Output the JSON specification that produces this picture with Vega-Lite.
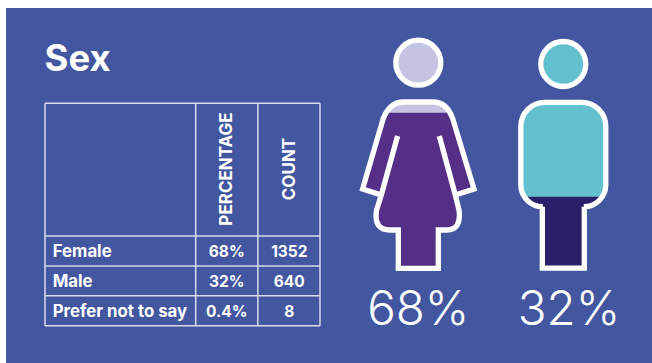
{
  "$schema": "https://vega.github.io/schema/vega-lite/v6.json",
  "width": 646,
  "height": 355,
  "padding": {"left": 6, "top": 8, "right": 0, "bottom": 0},
  "autosize": "none",
  "background": "#ffffff",
  "view": {"fill": "#4356a0", "stroke": null},
  "config": {
    "axis": {"disable": true},
    "text": {"font": "Inter", "color": "#ffffff"}
  },
  "datasets": {
    "sexes": [
      {"sex": "Female", "share": 0.68, "count": 1352},
      {"sex": "Male", "share": 0.32, "count": 640},
      {"sex": "Prefer not to say", "share": 0.004, "count": 8}
    ],
    "iconFills": [
      {"sex": "Female", "part": "female head"},
      {"sex": "Female", "part": "female body"},
      {"sex": "Female", "part": "female upper"},
      {"sex": "Male", "part": "male head"},
      {"sex": "Male", "part": "male body"},
      {"sex": "Male", "part": "male upper"}
    ],
    "iconOutlines": [
      {"sex": "Female", "part": "female head"},
      {"sex": "Female", "part": "female outline"},
      {"sex": "Male", "part": "male head"},
      {"sex": "Male", "part": "male body"}
    ]
  },
  "layer": [
    {
      "data": {"values": [{"heading": "Sex"}]},
      "mark": {"type": "text", "align": "left", "baseline": "alphabetic", "fontSize": 36.5, "fontWeight": 700},
      "encoding": {
        "x": {"field": "heading", "type": "nominal", "scale": {"type": "point", "padding": 0, "range": [38.5, 38.5]}},
        "y": {"field": "heading", "type": "nominal", "scale": {"type": "point", "padding": 0, "range": [63, 63]}},
        "text": {"field": "heading"}
      }
    },
    {
      "data": {"values": [{"edge": "table start"}]},
      "mark": {"type": "rule", "color": "#d9dcec", "strokeWidth": 1.5},
      "encoding": {
        "x": {"field": "edge", "type": "nominal", "scale": {"type": "point", "padding": 0, "domain": ["table start", "count end"], "range": [39, 314]}},
        "y": {"datum": "table top", "type": "nominal", "scale": {"type": "point", "padding": 0, "domain": ["table top", "table bottom"], "range": [95.3, 317.7]}},
        "y2": {"datum": "table bottom"}
      }
    },
    {
      "data": {"values": [{"edge": "labels end"}, {"edge": "percentage end"}, {"edge": "count end"}]},
      "mark": {"type": "rule", "color": "#d9dcec", "strokeWidth": 1.5},
      "encoding": {
        "x": {"field": "edge", "type": "nominal", "scale": {"type": "point", "padding": 0, "domain": ["labels end", "percentage end", "count end"], "range": [189.7, 314]}},
        "y": {"datum": "table top", "type": "nominal", "scale": {"type": "point", "padding": 0, "domain": ["table top", "table bottom"], "range": [95.3, 317.7]}},
        "y2": {"datum": "table bottom"}
      }
    },
    {
      "data": {"values": [{"edge": "header end"}, {"edge": "Female end"}, {"edge": "Male end"}, {"edge": "table end"}]},
      "mark": {"type": "rule", "color": "#d9dcec", "strokeWidth": 1.5},
      "encoding": {
        "y": {"field": "edge", "type": "nominal", "scale": {"type": "point", "padding": 0, "domain": ["header end", "Female end", "Male end", "table end"], "range": [228, 317.7]}},
        "x": {"datum": "table start", "type": "nominal", "scale": {"type": "point", "padding": 0, "domain": ["table start", "table end"], "range": [39, 314]}},
        "x2": {"datum": "table end"}
      }
    },
    {
      "data": {"values": [{"edge": "table top"}]},
      "mark": {"type": "rule", "color": "#d9dcec", "strokeWidth": 1.5},
      "encoding": {
        "y": {"field": "edge", "type": "nominal", "scale": {"type": "point", "padding": 0, "domain": ["table top", "table bottom"], "range": [95.3, 317.7]}},
        "x": {"datum": "table start", "type": "nominal", "scale": {"type": "point", "padding": 0, "domain": ["table start", "table end"], "range": [39, 314]}},
        "x2": {"datum": "table end"}
      }
    },
    {
      "data": {"values": [{"column": "PERCENTAGE"}, {"column": "COUNT"}]},
      "mark": {"type": "text", "angle": 270, "align": "center", "baseline": "middle", "fontSize": 17, "fontWeight": 700},
      "encoding": {
        "x": {"field": "column", "type": "nominal", "scale": {"type": "point", "padding": 0, "domain": ["PERCENTAGE", "COUNT"], "range": [221, 284]}},
        "y": {"datum": "header", "type": "nominal", "scale": {"type": "point", "padding": 0, "range": [161, 161]}},
        "text": {"field": "column"}
      }
    },
    {
      "data": {"name": "sexes"},
      "mark": {"type": "text", "align": "left", "baseline": "middle", "fontSize": 16.8, "fontWeight": 700},
      "encoding": {
        "x": {"datum": "labels", "type": "nominal", "scale": {"type": "point", "padding": 0, "range": [46.7, 46.7]}},
        "y": {"field": "sex", "type": "nominal", "sort": null, "scale": {"type": "point", "padding": 0, "domain": ["Female", "Male", "Prefer not to say"], "range": [243.7, 303.7]}},
        "text": {"field": "sex"}
      }
    },
    {
      "data": {"name": "sexes"},
      "mark": {"type": "text", "align": "center", "baseline": "middle", "fontSize": 15.5, "fontWeight": 700},
      "encoding": {
        "x": {"datum": "PERCENTAGE", "type": "nominal", "scale": {"type": "point", "padding": 0, "domain": ["PERCENTAGE", "COUNT"], "range": [220.7, 283.3]}},
        "y": {"field": "sex", "type": "nominal", "sort": null, "scale": {"type": "point", "padding": 0, "domain": ["Female", "Male", "Prefer not to say"], "range": [243.7, 303.7]}},
        "text": {"field": "share", "type": "quantitative", "format": ".2~%"}
      }
    },
    {
      "data": {"name": "sexes"},
      "mark": {"type": "text", "align": "center", "baseline": "middle", "fontSize": 15.5, "fontWeight": 700},
      "encoding": {
        "x": {"datum": "COUNT", "type": "nominal", "scale": {"type": "point", "padding": 0, "domain": ["PERCENTAGE", "COUNT"], "range": [220.7, 283.3]}},
        "y": {"field": "sex", "type": "nominal", "sort": null, "scale": {"type": "point", "padding": 0, "domain": ["Female", "Male", "Prefer not to say"], "range": [243.7, 303.7]}},
        "text": {"field": "count", "type": "quantitative", "format": "d"}
      }
    },
    {
      "data": {"name": "iconFills"},
      "mark": {"type": "point", "filled": true, "size": 4, "opacity": 1, "strokeWidth": 0},
      "encoding": {
        "x": {"field": "sex", "type": "nominal", "scale": {"type": "point", "padding": 0, "domain": ["Female", "Male"], "range": [412.3, 557.3]}},
        "y": {"datum": "figure", "type": "nominal", "scale": {"type": "point", "padding": 0, "range": [55, 55]}},
        "order": {"field": "part", "sort": "ascending"},
        "detail": {"field": "part"},
        "shape": {
          "field": "part", "type": "nominal", "legend": null,
          "scale": {
            "domain": ["female head", "female body", "female upper", "male head", "male body", "male upper"],
            "range": [
              "M -22.5 -0.3 A 22.5 22.5 0 1 1 22.5 -0.3 A 22.5 22.5 0 1 1 -22.5 -0.3 Z",
              "M -15 39 L 15 39 Q 28.3 39 34.3 55.3 L 55.7 126 L 37 132 L 40.7 147 Q 43.3 167 28.3 167 L 20 167 L 20 205.3 L -20 205.3 L -20 167 L -28.3 167 Q -45 167 -41.7 147 L -37 132 L -55.7 126 L -35 55.3 Q -28.3 39 -15 39 Z",
              "M -32 49.7 Q -26 39 -15 39 L 15 39 Q 26 39 32 49.7 Z",
              "M -22.5 1 A 22.5 22.5 0 1 1 22.5 1 A 22.5 22.5 0 1 1 -22.5 1 Z",
              "M -18.5 39.3 L 18.5 39.3 A 24 24 0 0 1 42.5 63.3 L 42.5 121.7 A 22 22 0 0 1 20.5 143.7 L 21 143.7 L 21 205.2 L -21 205.2 L -21 143.7 L -20.5 143.7 A 22 22 0 0 1 -42.5 121.7 L -42.5 63.3 A 24 24 0 0 1 -18.5 39.3 Z",
              "M -18.5 39.3 L 18.5 39.3 A 24 24 0 0 1 42.5 63.3 L 42.5 121.7 Q 42.5 128 38.9 133.7 L -38.9 133.7 Q -42.5 128 -42.5 121.7 L -42.5 63.3 A 24 24 0 0 1 -18.5 39.3 Z"
            ]
          }
        },
        "fill": {
          "field": "part", "type": "nominal", "legend": null,
          "scale": {
            "domain": ["female head", "female body", "female upper", "male head", "male body", "male upper"],
            "range": ["#c5c5e3", "#552f87", "#c5c5e3", "#63c1cf", "#2a2069", "#63c1cf"]
          }
        }
      }
    },
    {
      "data": {"name": "iconOutlines"},
      "mark": {"type": "point", "filled": false, "fill": null, "size": 4, "opacity": 1, "stroke": "#ffffff", "strokeWidth": 5.3},
      "encoding": {
        "x": {"field": "sex", "type": "nominal", "scale": {"type": "point", "padding": 0, "domain": ["Female", "Male"], "range": [412.3, 557.3]}},
        "y": {"datum": "figure", "type": "nominal", "scale": {"type": "point", "padding": 0, "range": [55, 55]}},
        "shape": {
          "field": "part", "type": "nominal", "legend": null,
          "scale": {
            "domain": ["female head", "female outline", "male head", "male body"],
            "range": [
              "M -22.5 -0.3 A 22.5 22.5 0 1 1 22.5 -0.3 A 22.5 22.5 0 1 1 -22.5 -0.3 Z",
              "M -15 39 L 15 39 Q 28.3 39 34.3 55.3 L 55.7 126 L 37 132 L 40.7 147 Q 43.3 167 28.3 167 L 20 167 L 20 205.3 L -20 205.3 L -20 167 L -28.3 167 Q -45 167 -41.7 147 L -37 132 L -55.7 126 L -35 55.3 Q -28.3 39 -15 39 Z M -20.7 73 L -37 132 M 21 73 L 37 132",
              "M -22.5 1 A 22.5 22.5 0 1 1 22.5 1 A 22.5 22.5 0 1 1 -22.5 1 Z",
              "M -18.5 39.3 L 18.5 39.3 A 24 24 0 0 1 42.5 63.3 L 42.5 121.7 A 22 22 0 0 1 20.5 143.7 L 21 143.7 L 21 205.2 L -21 205.2 L -21 143.7 L -20.5 143.7 A 22 22 0 0 1 -42.5 121.7 L -42.5 63.3 A 24 24 0 0 1 -18.5 39.3 Z"
            ]
          }
        }
      }
    },
    {
      "data": {"name": "sexes"},
      "transform": [{"filter": "datum.sex !== 'Prefer not to say'"}],
      "mark": {"type": "text", "align": "center", "baseline": "alphabetic", "fontSize": 47.5, "fontWeight": 300},
      "encoding": {
        "x": {"field": "sex", "type": "nominal", "scale": {"type": "point", "padding": 0, "domain": ["Female", "Male"], "range": [412.3, 563]}},
        "y": {"datum": "share label", "type": "nominal", "scale": {"type": "point", "padding": 0, "range": [317, 317]}},
        "text": {"field": "share", "type": "quantitative", "format": ".0%"}
      }
    }
  ],
  "resolve": {
    "scale": {"x": "independent", "y": "independent", "shape": "independent", "fill": "independent"}
  }
}
